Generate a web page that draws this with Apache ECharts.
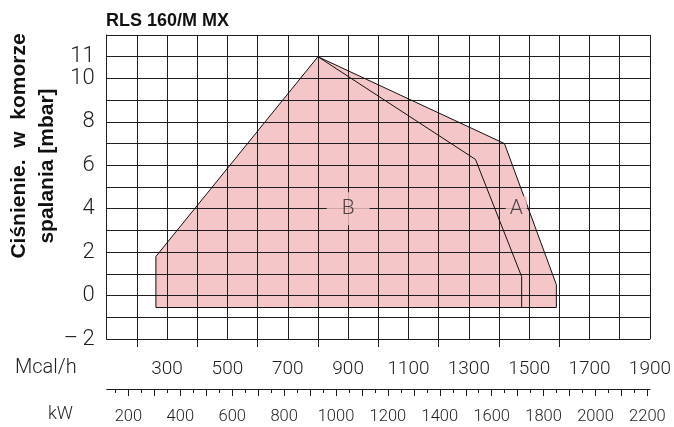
<!DOCTYPE html>
<html>
<head>
<meta charset="utf-8">
<script src="https://cdn.jsdelivr.net/npm/echarts@6/dist/echarts.min.js"></script>
<style>html,body{margin:0;padding:0;background:#fff}#c{width:674px;height:427px}</style>
</head>
<body>
<div id="c"></div>
<script>
// ---- data ----
const title = 'RLS 160/M MX';
const yNameLine1 = 'Ciśnienie.  w  komorze';
const yNameLine2 = 'spalania [mbar]';
// outer working field (curve A), Mcal/h vs mbar
const outerX = [263, 263, 800, 1418, 1590, 1590];
const outerY = [-0.55, 1.8, 11, 7, 0.5, -0.55];
// inner curve B
const innerX = [800, 1322, 1475, 1475];
const innerY = [11, 6.27, 0.87, -0.55];
// curve labels
const labelText = ['B', 'A'];
const labelX = [900, 1457];
const labelY = [4, 4];
// tick labels
const yLabels = [-2, 0, 2, 4, 6, 8, 10, 11];
const mcalLabels = [300, 500, 700, 900, 1100, 1300, 1500, 1700, 1900];
const mcalTicks = [200, 400, 600, 800, 1000, 1200, 1400, 1600];
const kwLabels = [200, 400, 600, 800, 1000, 1200, 1400, 1600, 1800, 2000, 2200];
const kwMajorTicks = [200, 300, 400, 500, 600, 700, 800, 900, 1000, 1100, 1200, 1300, 1400, 1500, 1600, 1700, 1800, 1900, 2000, 2100, 2200];
const kwMinorTicks = [150, 250, 350, 450, 550, 650, 750, 850, 950, 1050, 1150, 1250, 1350, 1450, 1550, 1650, 1750, 1850, 1950, 2050, 2150];
const mcalMin = 100, mcalMax = 1900, kwPerMcal = 1.163;

// ---- styles ----
const INK = '#1e1e1e';
const FILL = '#f5c6c7';
const thinFont = 'Roboto';

const chart = echarts.init(document.getElementById('c'), null, {renderer: 'canvas'});
const kwMin = mcalMin * kwPerMcal, kwMax = mcalMax * kwPerMcal;

chart.setOption({
  animation: false,
  backgroundColor: '#fff',
  grid: {left: 106.7, right: 23.3, top: 35, bottom: 88, containLabel: false},
  graphic: [
    {type: 'text', x: 106, y: 21, style: {text: title, font: 'bold 18px "Liberation Sans", Arial, sans-serif', fill: '#111', textAlign: 'left', textVerticalAlign: 'middle', align: 'left', verticalAlign: 'middle'}},
    {type: 'text', x: 19, y: 146, rotation: Math.PI / 2, style: {text: yNameLine1, font: 'bold 21px "Liberation Sans", Arial, sans-serif', fill: '#111', textAlign: 'center', textVerticalAlign: 'middle', align: 'center', verticalAlign: 'middle'}},
    {type: 'text', x: 47, y: 166, rotation: Math.PI / 2, style: {text: yNameLine2, font: 'bold 21px "Liberation Sans", Arial, sans-serif', fill: '#111', textAlign: 'center', textVerticalAlign: 'middle', align: 'center', verticalAlign: 'middle'}},
    {type: 'text', x: 15, y: 368, style: {text: 'Mcal/h', font: '300 20px Roboto, sans-serif', fill: INK, textAlign: 'left', textVerticalAlign: 'middle', align: 'left', verticalAlign: 'middle'}},
    {type: 'text', x: 73, y: 414, style: {text: 'kW', font: '300 18px Roboto, sans-serif', fill: INK, textAlign: 'right', textVerticalAlign: 'middle', align: 'right', verticalAlign: 'middle'}}
  ],
  xAxis: [
    { // Mcal/h grid + labels
      type: 'value', min: mcalMin, max: mcalMax, interval: 100, position: 'bottom', z: 3,
      axisLine: {show: true, onZero: false, lineStyle: {color: INK, width: 1}},
      axisTick: {show: false},
      axisLabel: {margin: 21, fontSize: 19, fontFamily: thinFont, fontWeight: 300, color: INK,
        formatter: v => mcalLabels.indexOf(v) >= 0 ? String(v) : ''},
      splitLine: {show: true, lineStyle: {color: INK, width: 1}}
    },
    { // Mcal/h ticks
      type: 'value', min: mcalMin, max: mcalMax, position: 'bottom', z: 3,
      axisLine: {show: false, onZero: false},
      axisTick: {show: true, customValues: mcalTicks, length: 8, lineStyle: {color: INK}},
      axisLabel: {show: false},
      splitLine: {show: false}
    },
    { // kW scale, major ticks + labels
      type: 'value', min: kwMin, max: kwMax, position: 'bottom', offset: 50, z: 3,
      axisLine: {show: true, onZero: false, lineStyle: {color: INK, width: 1}},
      axisTick: {show: true, customValues: kwMajorTicks, length: 7, lineStyle: {color: INK}},
      axisLabel: {customValues: kwLabels, margin: 19, fontSize: 16.5, fontFamily: thinFont, fontWeight: 300, color: INK,
        formatter: v => String(Math.round(v))},
      splitLine: {show: false}
    },
    { // kW minor ticks
      type: 'value', min: kwMin, max: kwMax, position: 'bottom', offset: 50, z: 3,
      axisLine: {show: false, onZero: false},
      axisTick: {show: true, customValues: kwMinorTicks, length: 4, lineStyle: {color: INK}},
      axisLabel: {show: false},
      splitLine: {show: false}
    }
  ],
  yAxis: [{
    type: 'value', min: -2, max: 12, interval: 1, position: 'left', z: 3,
    axisLine: {show: true, onZero: false, lineStyle: {color: INK, width: 1}},
    axisTick: {show: false},
    axisLabel: {margin: 12, fontSize: 22, fontFamily: thinFont, fontWeight: 300, color: INK,
      formatter: v => yLabels.indexOf(v) >= 0 ? (v < 0 ? '\u2013\u2009' + Math.abs(v) : String(v)) : ''},
    splitLine: {show: true, lineStyle: {color: INK, width: 1}}
  }],
  series: [
    {
      type: 'custom', coordinateSystem: 'cartesian2d', xAxisIndex: 0, yAxisIndex: 0, z: 1,
      data: [0], silent: true,
      renderItem: (params, api) => {
        const pts = outerX.map((x, i) => api.coord([x, outerY[i]]));
        return {type: 'polygon', shape: {points: pts}, style: {fill: FILL, stroke: null}};
      }
    },
    {
      type: 'custom', coordinateSystem: 'cartesian2d', xAxisIndex: 0, yAxisIndex: 0, z: 4,
      data: [0], silent: true,
      renderItem: (params, api) => {
        const pts = outerX.map((x, i) => api.coord([x, outerY[i]]));
        const ipts = innerX.map((x, i) => api.coord([x, innerY[i]]));
        return {type: 'group', children: [
          {type: 'polygon', shape: {points: pts}, style: {fill: null, stroke: '#111', lineWidth: 1}},
          {type: 'polyline', shape: {points: ipts}, style: {fill: null, stroke: '#111', lineWidth: 1}}
        ]};
      }
    },
    {
      type: 'scatter', xAxisIndex: 0, yAxisIndex: 0, z: 5, symbolSize: 0, silent: true,
      data: labelText.map((t, i) => ({
        value: [labelX[i], labelY[i]], name: t,
        label: {padding: t === 'B' ? [7, 15, 6, 15] : [3, 4, 2, 4]}
      })),
      label: {show: true, position: 'inside', formatter: p => p.name, fontSize: 21, fontFamily: thinFont, fontWeight: 300,
        color: INK, backgroundColor: FILL, lineHeight: 20}
    }
  ]
});
</script>
</body>
</html>
